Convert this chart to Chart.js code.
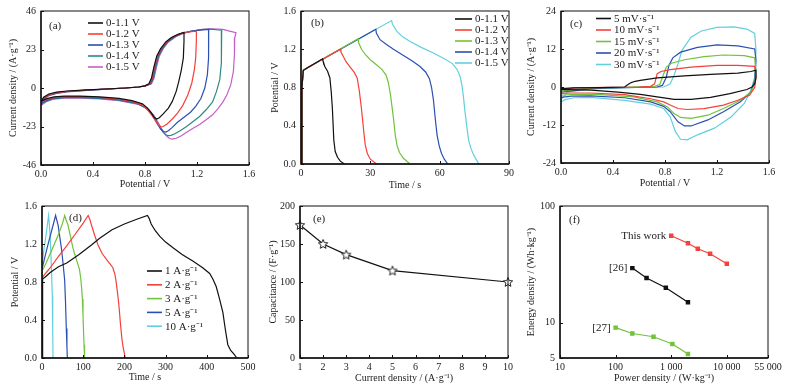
<!DOCTYPE html>
<html>
<head>
<meta charset="utf-8">
<script src="https://cdn.jsdelivr.net/npm/chart.js@4/dist/chart.umd.min.js"></script>
<style>
  body { margin: 0; background: #fff; width: 794px; height: 390px; position: relative; overflow: hidden; }
  canvas { position: absolute; }
</style>
</head>
<body>
<canvas id="pa" width="262" height="195" style="left:0;top:0"></canvas>
<canvas id="pb" width="262" height="195" style="left:262px;top:0"></canvas>
<canvas id="pc" width="270" height="195" style="left:524px;top:0"></canvas>
<canvas id="pd" width="262" height="195" style="left:0;top:195px"></canvas>
<canvas id="pe" width="262" height="195" style="left:262px;top:195px"></canvas>
<canvas id="pf" width="270" height="195" style="left:524px;top:195px"></canvas>
<script>
'use strict'

// ---- (a) CV at 10 mV/s, different windows: [V, A/g] ----
const a11 = [[0,-8],[0.02,-5.5],[0.06,-3.6],[0.12,-2.5],[0.2,-1.8],[0.35,-1.1],[0.5,-0.6],[0.65,0],[0.75,0.6],[0.8,1.3],[0.83,2.5],[0.85,6],[0.87,13],[0.89,19],[0.92,23.5],[0.96,27.5],[1.0,30],[1.05,32],[1.1,33.2],
  [1.1,28],[1.095,18],[1.08,11],[1.06,4],[1.04,-2],[1.01,-8],[0.98,-12],[0.94,-15.5],[0.91,-17.8],[0.89,-18.5],[0.87,-17.5],[0.85,-15],[0.82,-12],[0.78,-9.5],[0.7,-7.5],[0.6,-6.2],[0.45,-5.3],[0.3,-4.8],[0.18,-4.8],[0.1,-5.3],[0.04,-6.5],[0,-8]]
const a12 = [[0,-8.5],[0.02,-6],[0.06,-4],[0.12,-2.8],[0.2,-2],[0.35,-1.2],[0.5,-0.6],[0.65,0],[0.75,0.6],[0.8,1.3],[0.835,2.5],[0.855,6],[0.875,13],[0.895,19],[0.925,23.5],[0.965,27.5],[1.01,30.3],[1.06,32.2],[1.12,33.3],[1.195,34],
  [1.195,28],[1.19,18],[1.18,11],[1.16,3],[1.13,-4],[1.09,-10.5],[1.05,-15],[1.01,-18.5],[0.97,-21.5],[0.94,-23],[0.92,-23.2],[0.9,-22],[0.88,-19.5],[0.85,-16],[0.82,-13],[0.78,-10.2],[0.7,-8],[0.6,-6.6],[0.45,-5.6],[0.3,-5.1],[0.18,-5.1],[0.1,-5.7],[0.04,-7],[0,-8.5]]
const a13 = [[0,-9],[0.02,-6.3],[0.06,-4.2],[0.12,-3],[0.2,-2.1],[0.35,-1.3],[0.5,-0.7],[0.65,0],[0.75,0.6],[0.8,1.3],[0.84,2.5],[0.86,6],[0.88,13],[0.9,19],[0.93,23.5],[0.97,27.5],[1.02,30.5],[1.08,32.6],[1.15,33.8],[1.22,34.6],[1.29,35],
  [1.29,29],[1.288,18],[1.28,8],[1.26,0],[1.23,-6.3],[1.19,-11],[1.15,-14.5],[1.1,-17.5],[1.05,-20.5],[1.01,-23.5],[0.98,-25.5],[0.96,-26.3],[0.94,-26],[0.92,-24.5],[0.9,-22],[0.87,-18],[0.84,-14.5],[0.8,-11.5],[0.72,-8.7],[0.6,-7],[0.45,-5.9],[0.3,-5.4],[0.18,-5.4],[0.1,-6],[0.04,-7.5],[0,-9.3]]
const a14 = [[0,-9.5],[0.02,-6.6],[0.06,-4.4],[0.12,-3.1],[0.2,-2.2],[0.35,-1.4],[0.5,-0.7],[0.65,0],[0.75,0.6],[0.8,1.2],[0.845,2.5],[0.865,6],[0.885,13],[0.905,19],[0.935,23.5],[0.975,27.5],[1.03,30.6],[1.09,32.7],[1.16,34],[1.23,34.8],[1.3,35.2],[1.39,34.5],
  [1.39,28],[1.385,15],[1.375,5],[1.35,-2],[1.32,-8.3],[1.27,-13],[1.22,-17],[1.17,-20],[1.12,-23],[1.07,-25.5],[1.03,-27.3],[1.0,-28.3],[0.98,-28.5],[0.96,-28],[0.94,-26.5],[0.92,-24],[0.89,-20],[0.86,-16],[0.82,-12.5],[0.74,-9.3],[0.6,-7.3],[0.45,-6.2],[0.3,-5.7],[0.18,-5.7],[0.1,-6.3],[0.04,-7.8],[0,-9.8]]
const a15 = [[0,-10],[0.02,-7],[0.06,-4.6],[0.12,-3.2],[0.2,-2.3],[0.35,-1.4],[0.5,-0.7],[0.65,0],[0.75,0.6],[0.8,1.1],[0.85,2.5],[0.87,6],[0.89,13],[0.91,19],[0.94,23.5],[0.98,27.5],[1.04,30.8],[1.1,32.8],[1.17,34.2],[1.25,35.2],[1.32,35.4],[1.4,35],[1.45,34],[1.5,33],
  [1.49,30],[1.488,20],[1.48,10],[1.46,2],[1.43,-4],[1.4,-8.3],[1.36,-12.5],[1.32,-16],[1.27,-19],[1.22,-21.8],[1.17,-24],[1.12,-26.5],[1.08,-28.5],[1.04,-30],[1.01,-30.5],[0.99,-30.2],[0.97,-29],[0.95,-27],[0.93,-24.5],[0.9,-20.5],[0.87,-16.5],[0.83,-13],[0.76,-10],[0.6,-7.6],[0.45,-6.5],[0.3,-6],[0.18,-6],[0.1,-6.6],[0.04,-8.2],[0,-10.5]]

// ---- (b) GCD at different windows: [s, V] ----
const b11 = [[0,0],[0.4,0.8],[1,0.98],[3,1.01],[9.3,1.1],[9.5,1.08],[10.3,1.02],[11.5,0.97],[12.5,0.9],[13.1,0.75],[13.6,0.57],[14.2,0.25],[14.8,0.13],[15.8,0.07],[17,0.03],[18.8,0]]
const b12 = [[0,0],[0.4,0.8],[1,0.98],[3,1.01],[17.1,1.2],[17.3,1.17],[18.2,1.13],[19.5,1.07],[21,1.02],[23,0.96],[24.3,0.9],[25.2,0.77],[26.2,0.57],[27.2,0.33],[27.8,0.2],[28.7,0.11],[30,0.05],[32.7,0]]
const b13 = [[0,0],[0.4,0.8],[1,0.98],[3,1.01],[24.7,1.31],[24.9,1.27],[26.2,1.2],[28,1.14],[30,1.09],[32.5,1.04],[35,0.99],[36.8,0.93],[37.8,0.85],[38.8,0.71],[40,0.48],[40.8,0.3],[41.6,0.19],[42.6,0.12],[44.3,0.06],[47.2,0]]
const b14 = [[0,0],[0.4,0.8],[1,0.98],[3,1.01],[32.4,1.41],[32.6,1.37],[34.2,1.3],[37,1.25],[40,1.2],[44,1.14],[48,1.08],[51.5,1.02],[54,0.96],[55.6,0.89],[56.5,0.8],[57.3,0.67],[58.2,0.45],[58.9,0.3],[59.8,0.19],[60.8,0.11],[62,0.05],[63.5,0]]
const b15 = [[0,0],[0.4,0.8],[1,0.98],[3,1.01],[39.2,1.5],[39.6,1.46],[41.4,1.39],[44,1.33],[47.2,1.28],[52,1.22],[57.3,1.16],[62,1.1],[65.5,1.05],[67.5,0.99],[68.8,0.92],[69.6,0.83],[70.3,0.7],[71,0.54],[71.8,0.38],[72.6,0.24],[73.7,0.15],[75,0.08],[77,0]]

// ---- (c) CV at different scan rates: [V, A/g] ----
const c5 = [[0,-0.5],[0.1,-0.3],[0.3,-0.2],[0.49,0],[0.51,0.6],[0.54,1.4],[0.57,1.8],[0.61,2.1],[0.74,2.9],[0.95,3.5],[1.15,4],[1.36,4.4],[1.46,4.9],[1.5,5.3],
  [1.5,3],[1.49,1],[1.47,0],[1.43,-0.8],[1.3,-2.1],[1.15,-3.3],[1.0,-3.9],[0.87,-3.9],[0.74,-3.1],[0.61,-2.3],[0.44,-1.6],[0.23,-1],[0.05,-0.8],[0,-0.8]]
const c10 = [[0,-0.8],[0.1,-0.3],[0.35,-0.1],[0.6,0],[0.69,0.2],[0.72,1],[0.74,4.2],[0.77,4.9],[0.84,5.5],[1.0,6.3],[1.2,6.8],[1.36,6.8],[1.49,6.5],
  [1.5,3],[1.49,-0.2],[1.45,-2.6],[1.36,-4.2],[1.25,-5.7],[1.1,-6.8],[0.97,-7.1],[0.9,-6.8],[0.84,-5.7],[0.79,-4.7],[0.69,-3.7],[0.49,-2.4],[0.23,-1.9],[0.08,-1.9],[0,-2]]
const c15 = [[0,-1.3],[0.23,-0.3],[0.49,-0.1],[0.72,0.2],[0.76,0.8],[0.78,3.1],[0.81,6.3],[0.85,7.5],[0.95,8.6],[1.1,9.6],[1.25,10.1],[1.41,9.9],[1.49,9.2],
  [1.5,5.2],[1.49,1],[1.46,-1.6],[1.38,-4.2],[1.25,-6.8],[1.13,-8.9],[1.0,-9.9],[0.92,-9.6],[0.87,-8.4],[0.82,-6.3],[0.74,-4.7],[0.56,-3.1],[0.28,-2.3],[0.1,-2.3],[0,-2.6]]
const c20 = [[0,-1.6],[0.23,-0.5],[0.49,-0.2],[0.74,0],[0.78,0.5],[0.81,3.1],[0.83,6.8],[0.86,9.2],[0.92,11],[1.05,12.5],[1.2,13.3],[1.36,13],[1.49,12],
  [1.5,8.4],[1.49,2.1],[1.46,-1.6],[1.38,-4.7],[1.25,-7.8],[1.13,-10.4],[1.0,-12.3],[0.95,-12.3],[0.9,-11],[0.84,-7.8],[0.79,-6.1],[0.69,-4.7],[0.49,-3.4],[0.23,-2.8],[0.08,-2.9],[0,-3.3]]
const c30 = [[0,-4],[0.05,-1.6],[0.23,-0.6],[0.49,-0.2],[0.79,0],[0.84,1],[0.87,3.7],[0.9,7.3],[0.93,11.5],[1.0,15.7],[1.08,17.7],[1.2,18.8],[1.33,19],[1.43,18.3],[1.49,16.9],
  [1.5,11.5],[1.49,3.1],[1.46,-1],[1.41,-5.2],[1.31,-9.4],[1.18,-13],[1.05,-15.1],[0.97,-16.7],[0.92,-16.5],[0.88,-14.1],[0.84,-9.4],[0.79,-6.8],[0.69,-5.4],[0.49,-4.2],[0.23,-3.3],[0.1,-3.4],[0.03,-4],[0,-4.7]]

// ---- (d) GCD at different current densities: [s, V] ----
const d1 = [[0,0],[1,0.6],[2,0.83],[10,0.86],[20,0.9],[40,0.96],[60,1.0],[90,1.09],[120,1.19],[140,1.26],[170,1.35],[200,1.41],[230,1.46],[256,1.5],
  [260,1.47],[265,1.41],[275,1.34],[286,1.28],[300,1.22],[318,1.16],[340,1.09],[366,1.02],[390,0.95],[407,0.89],[415,0.83],[423,0.75],[431,0.62],[439,0.48],[445,0.3],[451,0.14],[458,0.08],[466,0.04],[473,0]]
const d2 = [[0,0],[0.5,0.6],[1,0.85],[20,0.95],[40,1.07],[60,1.18],[80,1.3],[100,1.42],[112,1.5],
  [116,1.46],[120,1.4],[128,1.29],[136,1.19],[146,1.1],[156,1.04],[165,0.99],[172,0.95],[177,0.88],[180,0.8],[184,0.66],[187,0.54],[190,0.38],[194,0.2],[197,0.11],[200,0.05],[202,0]]
const d3 = [[0,0],[0.5,0.6],[1,0.92],[10,1.0],[20,1.1],[30,1.2],[40,1.3],[50,1.42],[55,1.5],
  [58,1.46],[63,1.4],[69,1.28],[75,1.16],[81,1.07],[87,0.99],[91,0.93],[94,0.84],[96.5,0.72],[98,0.62],[99.5,0.45],[101,0.26],[102,0.14],[103,0.05],[103.6,0]]
const d5 = [[0,0],[0.5,0.7],[1,0.95],[8,1.08],[16,1.22],[24,1.35],[33,1.5],
  [36,1.45],[39,1.4],[43,1.28],[47,1.16],[51,1.0],[55,0.82],[57,0.6],[59,0.31],[60.5,0.12],[61.5,0]]
const d10 = [[0,0],[0.5,0.8],[1,1.0],[5,1.15],[10,1.3],[16,1.5],
  [18,1.4],[20,1.26],[22.5,1.0],[25,0.65],[26,0.3],[26.7,0]]

// ---- (e) rate capability ----
const eCurrent = [1, 2, 3, 5, 10]
const eCapacitance = [175, 150, 136, 115, 100]

// ---- (f) Ragone plot ----
const fThisPower = [1000, 2000, 3000, 5000, 10000]
const fThisEnergy = [55.6, 48, 43, 39, 32]
const f26Power = [200, 360, 800, 2000]
const f26Energy = [29.4, 24.2, 20, 15]
const f27Power = [100, 200, 480, 1050, 2000]
const f27Energy = [9.1, 8.1, 7.6, 6.6, 5.4]

// ---- labels and ticks ----
const windowLabels = ['0-1.1 V', '0-1.2 V', '0-1.3 V', '0-1.4 V', '0-1.5 V']
const rateLabels = ['5 mV·s⁻¹', '10 mV·s⁻¹', '15 mV·s⁻¹', '20 mV·s⁻¹', '30 mV·s⁻¹']
const currentLabels = ['1 A·g⁻¹', '2 A·g⁻¹', '3 A·g⁻¹', '5 A·g⁻¹', '10 A·g⁻¹']
const refLabels = ['This work', '[26]', '[27]']

const potentialTicks = [0, 0.4, 0.8, 1.2, 1.6]
const aCurrentTicks = [-46, -23, 0, 23, 46]
const bTimeTicks = [0, 30, 60, 90]
const cCurrentTicks = [-24, -12, 0, 12, 24]
const dTimeTicks = [0, 100, 200, 300, 400, 500]
const eCurrentTicks = [1, 2, 3, 4, 5, 6, 7, 8, 9, 10]
const eCapTicks = [0, 50, 100, 150, 200]
const fPowerTicks = [10, 100, 1000, 10000, 55000]
const fEnergyTicks = [5, 10, 100]

const FONT = '"Liberation Serif", "Times New Roman", serif'
Chart.defaults.font.family = FONT
Chart.defaults.font.size = 10
Chart.defaults.color = '#222'

const BLACK = '#111111'
const RED = '#f5403a'
const GREEN = '#72c23c'
const BLUE = '#2c4fb2'
const CYAN = '#62d0dc'
const TEAL = '#2e8a80'
const PURPLE = '#c45fca'

function pts (list) {
  return list.map(p => ({ x: p[0], y: p[1] }))
}

function zip (xs, ys) {
  return xs.map((x, i) => ({ x, y: ys[i] }))
}

function curve (label, list, color) {
  return {
    label,
    data: pts(list),
    borderColor: color,
    backgroundColor: color,
    borderWidth: 1.2,
    pointRadius: 0,
    showLine: true,
    tension: 0
  }
}

function fixedTicks (values) {
  return scale => { scale.ticks = values.map(v => ({ value: v })) }
}

function starImage () {
  const c = document.createElement('canvas')
  c.width = 12
  c.height = 12
  const g = c.getContext('2d')
  g.beginPath()
  for (let i = 0; i < 10; i++) {
    const r = i % 2 ? 2.2 : 4.9
    const a = -Math.PI / 2 + i * Math.PI / 5
    g.lineTo(6 + r * Math.cos(a), 6.4 + r * Math.sin(a))
  }
  g.closePath()
  g.fillStyle = '#fff'
  g.fill()
  g.strokeStyle = '#222'
  g.lineWidth = 1
  g.stroke()
  return c
}

// frame, inward ticks, panel tag, in-plot legend and point notes
const framePlugin = {
  id: 'frame',
  afterDatasetsDraw (chart, args, opts) {
    const { ctx, chartArea: a } = chart
    const xs = chart.scales.x
    const ys = chart.scales.y
    ctx.save()
    ctx.strokeStyle = '#111'
    ctx.lineWidth = 1
    ctx.strokeRect(a.left, a.top, a.width, a.height)
    ctx.lineWidth = 1.4
    ctx.beginPath()
    ctx.moveTo(a.left, a.top)
    ctx.lineTo(a.left, a.bottom)
    ctx.lineTo(a.right, a.bottom)
    ctx.stroke()
    ctx.lineWidth = 1
    ctx.beginPath()
    xs.ticks.forEach(t => {
      const px = Math.round(xs.getPixelForValue(t.value)) + 0.5
      ctx.moveTo(px, a.bottom)
      ctx.lineTo(px, a.bottom - 3)
    })
    ys.ticks.forEach(t => {
      const py = Math.round(ys.getPixelForValue(t.value)) + 0.5
      ctx.moveTo(a.left, py)
      ctx.lineTo(a.left + 3, py)
    })
    ctx.stroke()

    ctx.fillStyle = '#222'
    ctx.font = '11px ' + FONT
    ctx.textBaseline = 'middle'
    ctx.textAlign = 'left'
    ctx.fillText(opts.tag, a.left + opts.tagX, a.top + opts.tagY)

    if (opts.legend) {
      const L = opts.legend
      chart.data.datasets.forEach((ds, i) => {
        const y = a.top + L.y + i * L.row
        ctx.strokeStyle = ds.borderColor
        ctx.lineWidth = 1.6
        ctx.beginPath()
        ctx.moveTo(a.left + L.x, y)
        ctx.lineTo(a.left + L.x + L.len, y)
        ctx.stroke()
        ctx.fillStyle = '#222'
        ctx.fillText(ds.label, a.left + L.x + L.len + 3, y + 0.5)
      })
    }

    ctx.textAlign = 'right'
    chart.data.datasets.forEach((ds, i) => {
      if (!ds.note) return
      const p = chart.getDatasetMeta(i).data[0]
      ctx.fillStyle = '#222'
      ctx.fillText(ds.note, p.x - 5, p.y)
    })
    ctx.restore()
  }
}

function panel (id, datasets, o) {
  return new Chart(document.getElementById(id), {
    type: 'scatter',
    data: { datasets },
    plugins: [framePlugin],
    options: {
      responsive: false,
      animation: false,
      events: [],
      layout: { padding: { left: 0, top: o.top, right: o.right, bottom: 0 } },
      plugins: {
        legend: { display: false },
        tooltip: { enabled: false },
        frame: { tag: o.tag, tagX: o.tagX, tagY: o.tagY, legend: o.legend }
      },
      scales: {
        x: {
          type: o.xType || 'linear',
          min: o.xMin,
          max: o.xMax,
          afterBuildTicks: fixedTicks(o.xTicks),
          afterFit: s => { s.height = o.xh },
          grid: { display: false, drawTicks: false },
          border: { display: false },
          ticks: { callback: o.xFmt, padding: 3, maxRotation: 0, autoSkip: false },
          title: { display: true, text: o.xTitle, padding: { top: 0, bottom: o.xtb } }
        },
        y: {
          type: o.yType || 'linear',
          min: o.yMin,
          max: o.yMax,
          afterBuildTicks: fixedTicks(o.yTicks),
          afterFit: s => { s.width = o.yw },
          grid: { display: false, drawTicks: false },
          border: { display: false },
          ticks: { callback: o.yFmt, padding: 5, maxRotation: 0, autoSkip: false },
          title: { display: true, text: o.yTitle, padding: { top: o.ytp, bottom: 0 } }
        }
      }
    }
  })
}

const oneDec = v => v.toFixed(1)
const plain = v => String(v)
const spaced = v => v >= 1000 ? String(v).replace(/(\d)(?=(\d{3})+$)/g, '$1 ') : String(v)

// (a)
panel('pa', [
  curve(windowLabels[0], a11, BLACK),
  curve(windowLabels[1], a12, RED),
  curve(windowLabels[2], a13, BLUE),
  curve(windowLabels[3], a14, TEAL),
  curve(windowLabels[4], a15, PURPLE)
], {
  top: 8, right: 13, xh: 30, yw: 41,
  xMin: 0, xMax: 1.6, xTicks: potentialTicks, xFmt: oneDec, xTitle: 'Potential / V', xtb: 5,
  yMin: -46, yMax: 46, yTicks: aCurrentTicks, yFmt: plain, yTitle: 'Current density / (A·g⁻¹)', ytp: 7,
  tag: '(a)', tagX: 8, tagY: 15,
  legend: { x: 47, y: 12, row: 11, len: 15 }
})

// (b)
panel('pb', [
  curve(windowLabels[0], b11, BLACK),
  curve(windowLabels[1], b12, RED),
  curve(windowLabels[2], b13, GREEN),
  curve(windowLabels[3], b14, BLUE),
  curve(windowLabels[4], b15, CYAN)
], {
  top: 11, right: 15, xh: 31, yw: 39,
  xMin: 0, xMax: 90, xTicks: bTimeTicks, xFmt: plain, xTitle: 'Time / s', xtb: 4,
  yMin: 0, yMax: 1.6, yTicks: potentialTicks, yFmt: oneDec, yTitle: 'Potential / V', ytp: 7,
  tag: '(b)', tagX: 10, tagY: 12,
  legend: { x: 154, y: 8, row: 11, len: 17 }
})

// (c)
panel('pc', [
  curve(rateLabels[0], c5, BLACK),
  curve(rateLabels[1], c10, RED),
  curve(rateLabels[2], c15, GREEN),
  curve(rateLabels[3], c20, BLUE),
  curve(rateLabels[4], c30, CYAN)
], {
  top: 10, right: 25, xh: 32, yw: 37,
  xMin: 0, xMax: 1.6, xTicks: potentialTicks, xFmt: oneDec, xTitle: 'Potential / V', xtb: 6,
  yMin: -24, yMax: 24, yTicks: cCurrentTicks, yFmt: plain, yTitle: 'Current density / (A·g⁻¹)', ytp: 1,
  tag: '(c)', tagX: 9, tagY: 13,
  legend: { x: 35, y: 7.5, row: 11.5, len: 15 }
})

// (d)
panel('pd', [
  curve(currentLabels[0], d1, BLACK),
  curve(currentLabels[1], d2, RED),
  curve(currentLabels[2], d3, GREEN),
  curve(currentLabels[3], d5, BLUE),
  curve(currentLabels[4], d10, CYAN)
], {
  top: 7, right: 14, xh: 32, yw: 42,
  xMin: 0, xMax: 500, xTicks: dTimeTicks, xFmt: plain, xTitle: 'Time / s', xtb: 7,
  yMin: 0, yMax: 1.6, yTicks: potentialTicks, yFmt: oneDec, yTitle: 'Potential / V', ytp: 9,
  tag: '(d)', tagX: 27, tagY: 12,
  legend: { x: 105, y: 65, row: 13.8, len: 15 }
})

// (e)
panel('pe', [{
  label: 'Capacitance',
  data: zip(eCurrent, eCapacitance),
  borderColor: BLACK,
  backgroundColor: BLACK,
  borderWidth: 1.2,
  showLine: true,
  tension: 0,
  pointRadius: 5,
  pointStyle: starImage(),
  clip: false
}], {
  top: 7, right: 16, xh: 32, yw: 38,
  xMin: 1, xMax: 10, xTicks: eCurrentTicks, xFmt: plain, xTitle: 'Current density / (A·g⁻¹)', xtb: 6,
  yMin: 0, yMax: 200, yTicks: eCapTicks, yFmt: plain, yTitle: 'Capacitance / (F·g⁻¹)', ytp: 5,
  tag: '(e)', tagX: 13, tagY: 13
})

// (f)
function ragone (note, xs, ys, color) {
  return {
    label: note,
    note,
    data: zip(xs, ys),
    borderColor: color,
    backgroundColor: color,
    borderWidth: 1.2,
    showLine: true,
    tension: 0,
    pointStyle: 'rect',
    pointRadius: 2.3
  }
}
panel('pf', [
  ragone(refLabels[0], fThisPower, fThisEnergy, RED),
  ragone(refLabels[1], f26Power, f26Energy, BLACK),
  ragone(refLabels[2], f27Power, f27Energy, GREEN)
], {
  top: 9, right: 26, xh: 32, yw: 36,
  xType: 'logarithmic', xMin: 10, xMax: 55000, xTicks: fPowerTicks, xFmt: spaced, xTitle: 'Power density / (W·kg⁻¹)', xtb: 6,
  yType: 'logarithmic', yMin: 5, yMax: 100, yTicks: fEnergyTicks, yFmt: plain, yTitle: 'Energy density / (Wh·kg⁻¹)', ytp: 1,
  tag: '(f)', tagX: 9, tagY: 14
})
</script>
</body>
</html>
